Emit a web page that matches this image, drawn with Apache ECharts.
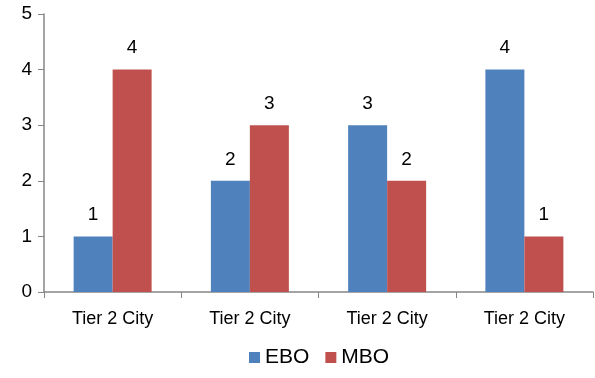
<!DOCTYPE html>
<html>
<head>
<meta charset="utf-8">
<script src="https://cdn.jsdelivr.net/npm/echarts@6/dist/echarts.min.js"></script>
<style>
  html, body { margin: 0; padding: 0; background: #fff; }
  #chart { width: 595px; height: 378px; }
</style>
</head>
<body>
<div id="chart"></div>
<script>
const categories = ['Tier 2 City', 'Tier 2 City', 'Tier 2 City', 'Tier 2 City'];
const eboValues = [1, 2, 3, 4];
const mboValues = [4, 3, 2, 1];

const font = 'Liberation Sans, Arial, sans-serif';
const axisColor = '#868686';

const chart = echarts.init(document.getElementById('chart'));

const labelStyle = {
  show: true,
  position: 'top',
  distance: 12,
  color: '#000',
  fontFamily: font,
  fontSize: 19
};

const option = {
  animation: false,
  grid: { left: 44, right: 2, top: 14, bottom: 86 },
  legend: {
    bottom: 5,
    left: 244,
    itemWidth: 11,
    itemHeight: 11,
    itemGap: 16,
    icon: 'rect',
    textStyle: { fontFamily: font, fontSize: 21, color: '#000', padding: [0, 0, 0, 0] },
    data: ['EBO', 'MBO']
  },
  xAxis: {
    type: 'category',
    data: categories,
    axisLine: { lineStyle: { color: axisColor, width: 1.5 } },
    axisTick: { show: true, alignWithLabel: false, length: 6, lineStyle: { color: axisColor } },
    axisLabel: { color: '#000', fontFamily: font, fontSize: 18, margin: 18 }
  },
  yAxis: {
    type: 'value',
    min: 0,
    max: 5,
    interval: 1,
    splitLine: { show: false },
    axisLine: { show: true, lineStyle: { color: axisColor, width: 1.5 } },
    axisTick: { show: true, length: 6, lineStyle: { color: axisColor } },
    axisLabel: { color: '#000', fontFamily: font, fontSize: 19, margin: 12 }
  },
  series: [
    {
      name: 'EBO',
      type: 'bar',
      data: eboValues,
      barWidth: 39,
      barGap: '0%',
      itemStyle: { color: '#4F81BD' },
      label: labelStyle
    },
    {
      name: 'MBO',
      type: 'bar',
      data: mboValues,
      barWidth: 39,
      itemStyle: { color: '#C0504D' },
      label: labelStyle
    }
  ]
};

chart.setOption(option);
</script>
</body>
</html>
